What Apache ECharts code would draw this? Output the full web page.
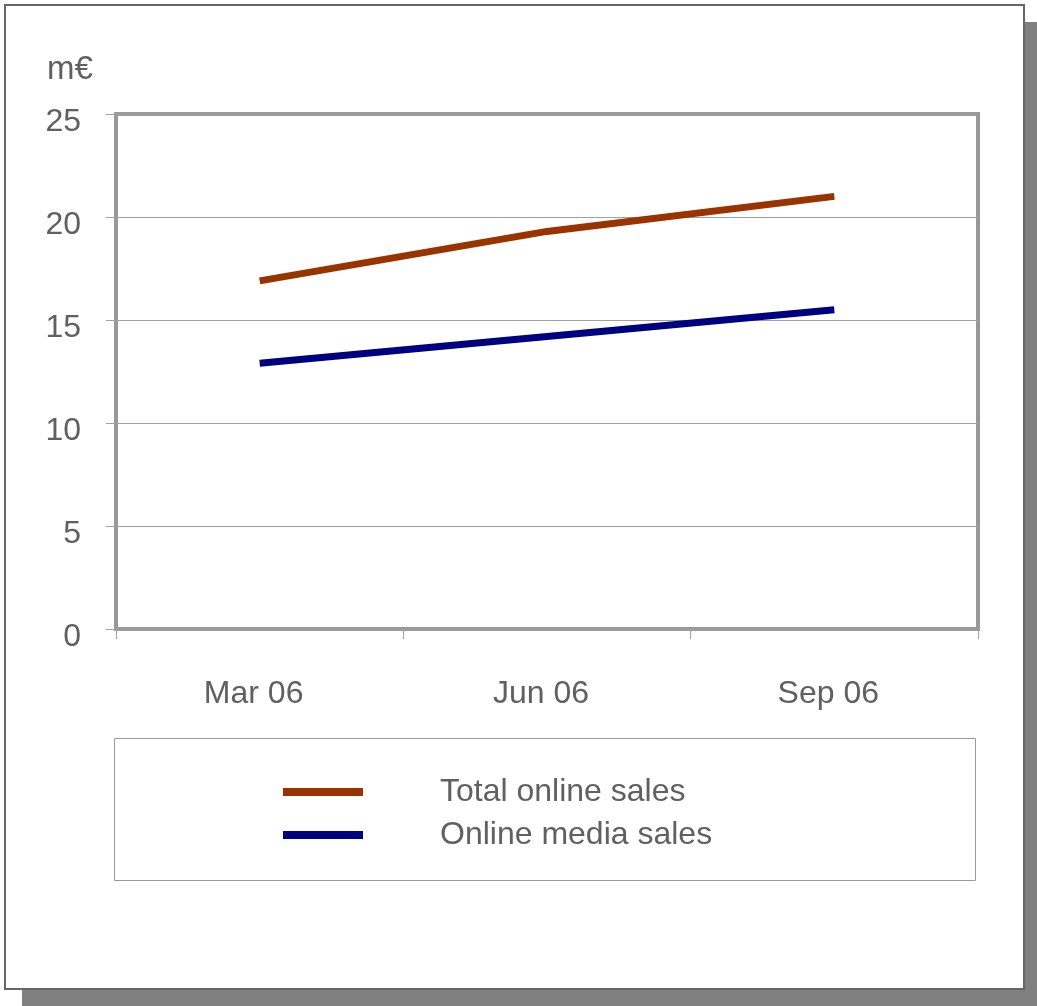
<!DOCTYPE html>
<html>
<head>
<meta charset="utf-8">
<script src="https://cdn.jsdelivr.net/npm/echarts@6/dist/echarts.min.js"></script>
<style>
  html, body { margin: 0; padding: 0; background: #fff; }
  #chart { width: 1037px; height: 1006px; }
</style>
</head>
<body>
<div id="chart"></div>
<script>
// data
const quarters = ['Mar 06', 'Jun 06', 'Sep 06']
const totalOnline = [16.9, 19.3, 21.0]
const mediaOnline = [12.9, 14.2, 15.5]
const seriesNames = ['Total online sales', 'Online media sales']
const unitLabel = 'm€'

const textColor = '#606060'
const font = 'Liberation Sans, Arial, sans-serif'
const fontSize = 32

const chart = echarts.init(document.getElementById('chart'))

const option = {
  backgroundColor: '#fff',
  animation: false,
  textStyle: { fontFamily: font },
  graphic: [
    // drop shadow + outer frame
    { type: 'rect', z: -10, shape: { x: 22, y: 22, width: 1020, height: 990 }, style: { fill: '#808080' } },
    { type: 'rect', z: -9, shape: { x: 5, y: 5, width: 1019, height: 984 }, style: { fill: '#fff', stroke: '#666', lineWidth: 2 } },
    // legend box
    { type: 'rect', z: -8, shape: { x: 114.5, y: 738.5, width: 861, height: 142 }, style: { fill: 'none', stroke: '#999', lineWidth: 1 } },
    {
      type: 'text', left: 47, top: 53,
      style: { text: unitLabel, fontSize: 33, fill: textColor, fontFamily: font }
    }
  ],
  grid: {
    left: 116,
    right: 1037 - 978,
    top: 114,
    bottom: 1006 - 629,
    containLabel: false,
    outerBoundsMode: 'none',
    show: true,
    backgroundColor: 'transparent',
    borderColor: '#999',
    borderWidth: 4
  },
  legend: {
    orient: 'vertical',
    left: 278,
    top: 771,
    icon: 'rect',
    itemWidth: 80,
    itemHeight: 8,
    itemGap: 11,
    data: seriesNames,
    textStyle: {
      fontSize: fontSize,
      lineHeight: 32,
      color: textColor,
      fontFamily: font,
      padding: [0, 0, 0, 72]
    }
  },
  xAxis: {
    type: 'category',
    data: quarters,
    boundaryGap: true,
    axisLine: { show: false },
    axisTick: { show: true, length: 10, lineStyle: { color: '#a0a0a0' } },
    axisLabel: { fontSize: fontSize, color: textColor, margin: 49, padding: [0, 12, 0, 0] },
    splitLine: { show: false }
  },
  yAxis: {
    type: 'value',
    min: 0,
    max: 25,
    interval: 5,
    axisLine: { show: false },
    axisTick: { show: true, length: 10, lineStyle: { color: '#a0a0a0' } },
    axisLabel: { fontSize: fontSize, color: textColor, margin: 35, verticalAlign: 'top', lineHeight: 16 },
    splitLine: { show: true, lineStyle: { color: '#a0a0a0', width: 1 } }
  },
  series: [
    {
      name: seriesNames[0],
      type: 'line',
      data: totalOnline,
      color: '#993300',
      showSymbol: false,
      symbol: 'none',
      lineStyle: { width: 7, color: '#993300' },
      itemStyle: { color: '#993300' }
    },
    {
      name: seriesNames[1],
      type: 'line',
      data: mediaOnline,
      color: '#000080',
      showSymbol: false,
      symbol: 'none',
      lineStyle: { width: 7, color: '#000080' },
      itemStyle: { color: '#000080' }
    }
  ]
}

chart.setOption(option)
</script>
</body>
</html>
